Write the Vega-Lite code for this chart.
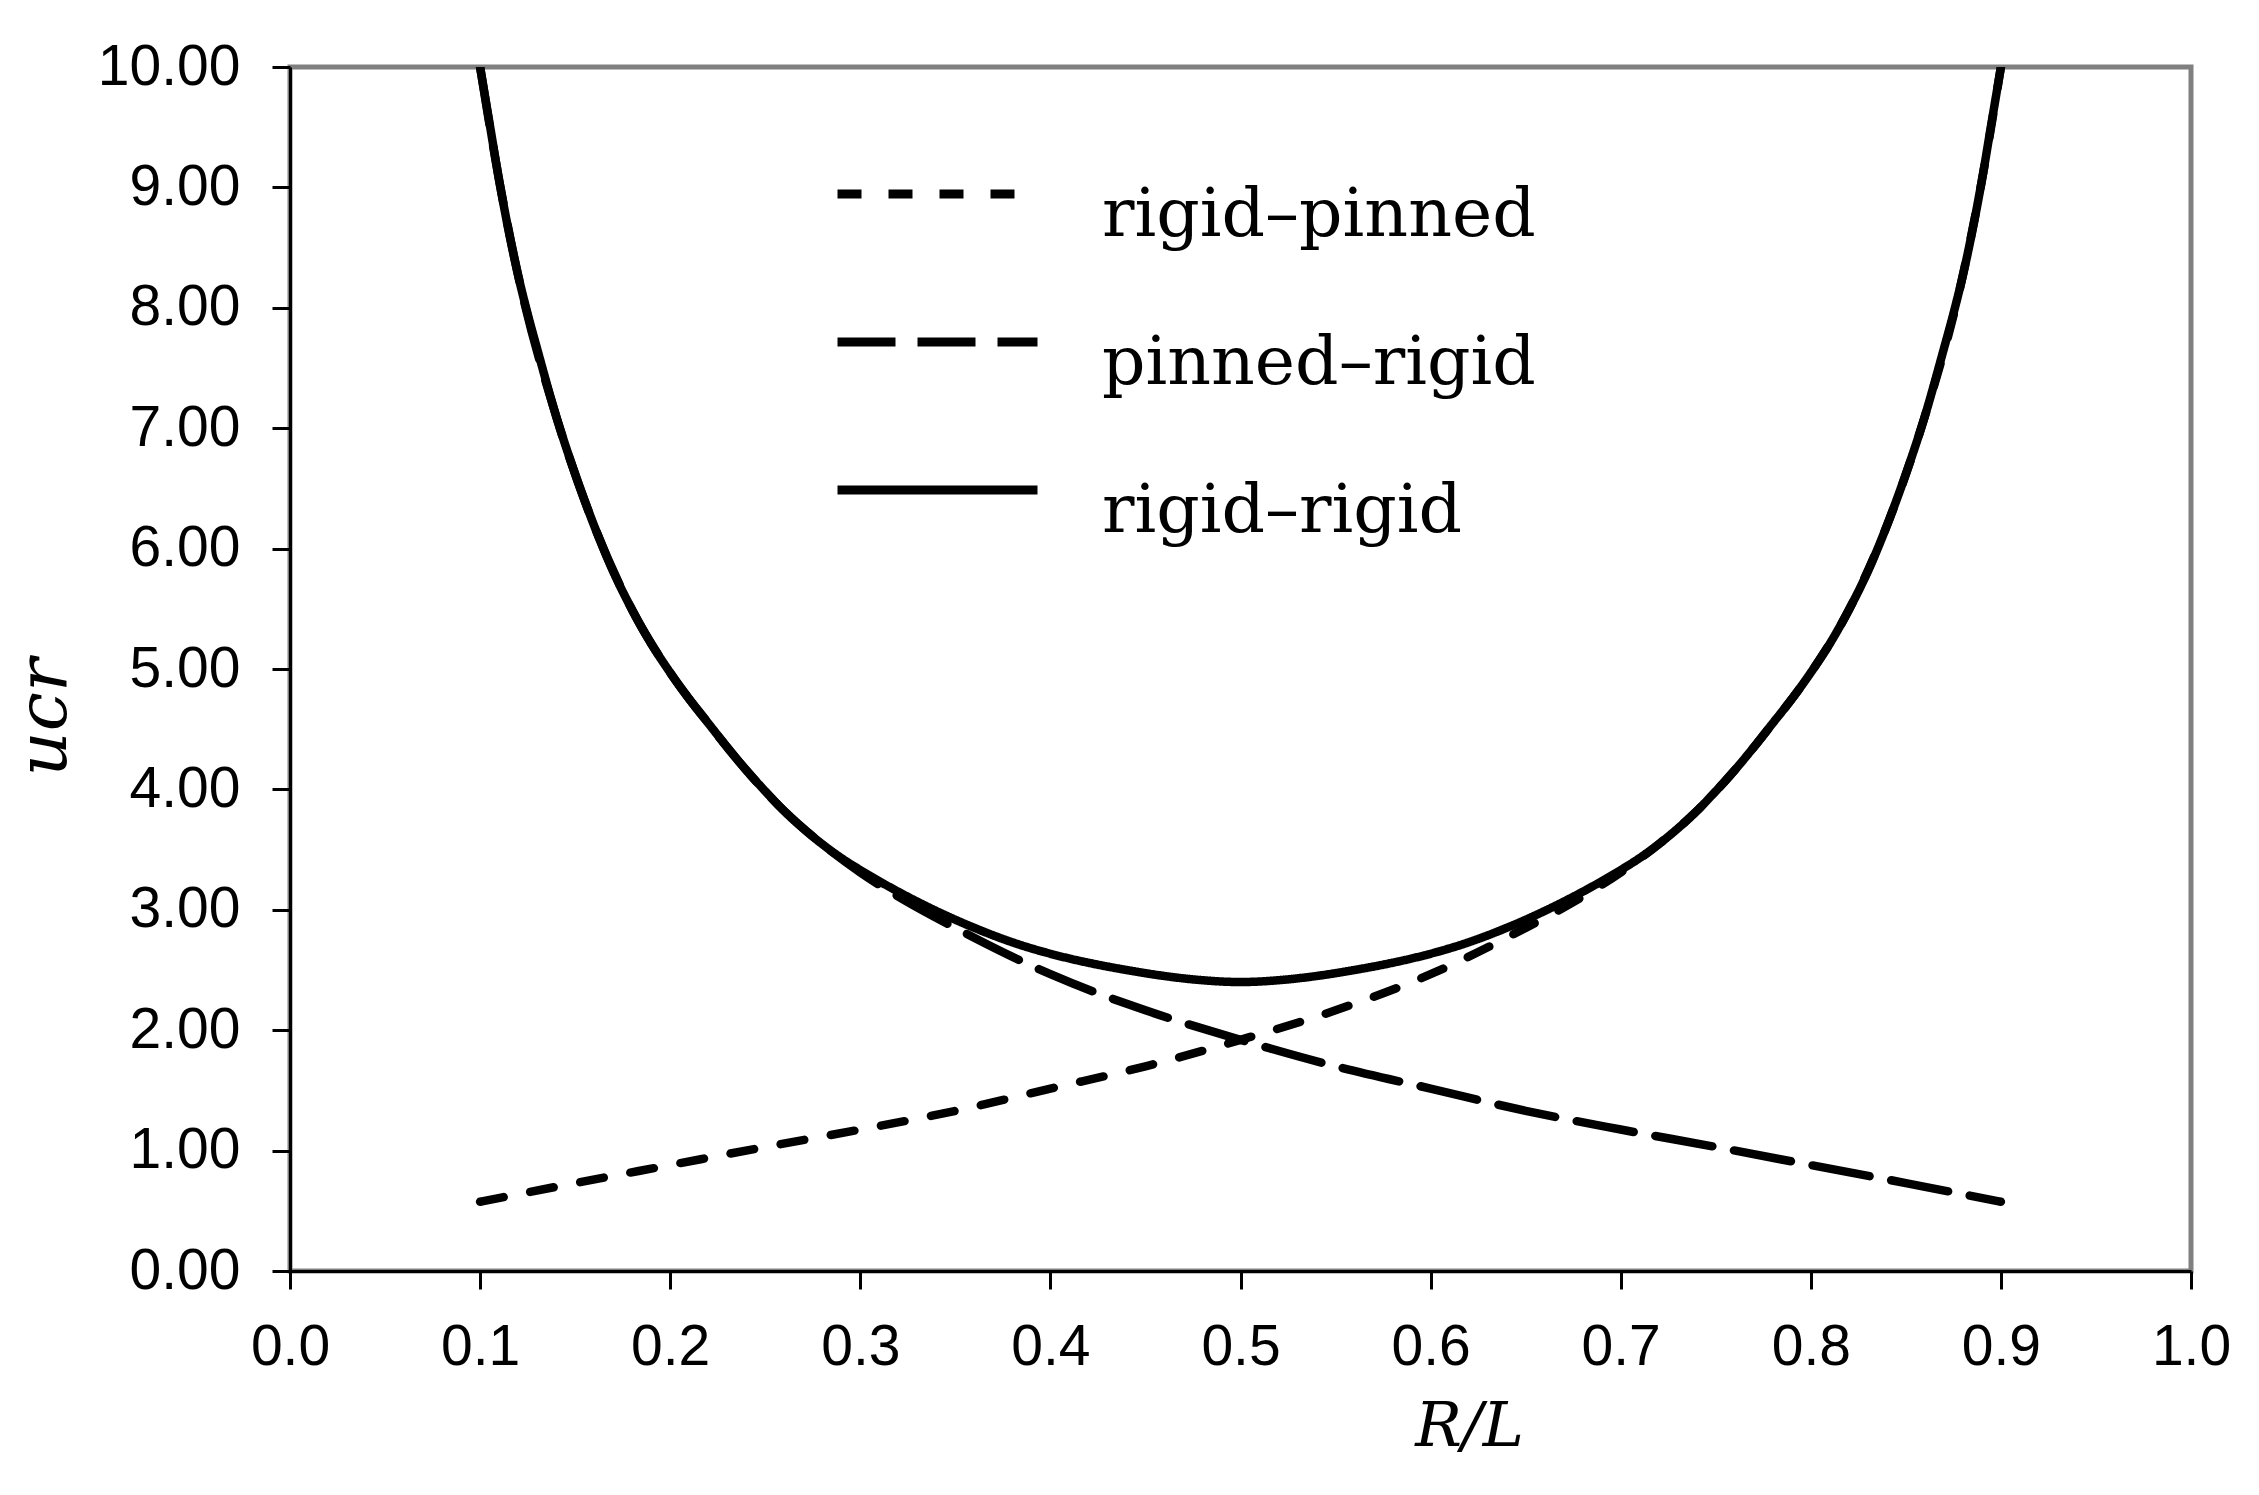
{
  "$schema": "https://vega.github.io/schema/vega-lite/v6.json",
  "width": 1901,
  "height": 1204,
  "autosize": {"type": "none"},
  "padding": {"left": 290, "top": 67, "right": 68, "bottom": 224},
  "background": "white",
  "config": {
    "view": {"stroke": "#808080", "strokeWidth": 5},
    "axis": {
      "grid": false,
      "domainColor": "black",
      "domainWidth": 3,
      "tickColor": "black",
      "tickWidth": 3,
      "tickSize": 18,
      "labelFont": "Liberation Sans Narrow, Arial Narrow, Liberation Sans, sans-serif",
      "labelFontSize": 57,
      "labelColor": "black",
      "labelOverlap": false,
      "labelFlush": false,
      "labelBound": false,
      "titleColor": "black",
      "titleFont": "DejaVu Serif",
      "titleFontStyle": "italic",
      "titleFontWeight": "normal"
    }
  },
  "data": {
    "values": [
      {"r": 0.10, "u": 10.00, "s": "rigid–rigid"},
      {"r": 0.105, "u": 9.53, "s": "rigid–rigid"},
      {"r": 0.11, "u": 9.06, "s": "rigid–rigid"},
      {"r": 0.115, "u": 8.64, "s": "rigid–rigid"},
      {"r": 0.12, "u": 8.27, "s": "rigid–rigid"},
      {"r": 0.125, "u": 7.95, "s": "rigid–rigid"},
      {"r": 0.13, "u": 7.66, "s": "rigid–rigid"},
      {"r": 0.14, "u": 7.10, "s": "rigid–rigid"},
      {"r": 0.15, "u": 6.62, "s": "rigid–rigid"},
      {"r": 0.16, "u": 6.19, "s": "rigid–rigid"},
      {"r": 0.17, "u": 5.81, "s": "rigid–rigid"},
      {"r": 0.18, "u": 5.49, "s": "rigid–rigid"},
      {"r": 0.19, "u": 5.21, "s": "rigid–rigid"},
      {"r": 0.20, "u": 4.97, "s": "rigid–rigid"},
      {"r": 0.21, "u": 4.75, "s": "rigid–rigid"},
      {"r": 0.22, "u": 4.55, "s": "rigid–rigid"},
      {"r": 0.23, "u": 4.35, "s": "rigid–rigid"},
      {"r": 0.24, "u": 4.16, "s": "rigid–rigid"},
      {"r": 0.25, "u": 3.985, "s": "rigid–rigid"},
      {"r": 0.26, "u": 3.82, "s": "rigid–rigid"},
      {"r": 0.27, "u": 3.675, "s": "rigid–rigid"},
      {"r": 0.28, "u": 3.545, "s": "rigid–rigid"},
      {"r": 0.29, "u": 3.43, "s": "rigid–rigid"},
      {"r": 0.30, "u": 3.33, "s": "rigid–rigid"},
      {"r": 0.32, "u": 3.15, "s": "rigid–rigid"},
      {"r": 0.34, "u": 2.99, "s": "rigid–rigid"},
      {"r": 0.36, "u": 2.85, "s": "rigid–rigid"},
      {"r": 0.38, "u": 2.73, "s": "rigid–rigid"},
      {"r": 0.40, "u": 2.635, "s": "rigid–rigid"},
      {"r": 0.42, "u": 2.56, "s": "rigid–rigid"},
      {"r": 0.44, "u": 2.50, "s": "rigid–rigid"},
      {"r": 0.46, "u": 2.45, "s": "rigid–rigid"},
      {"r": 0.48, "u": 2.415, "s": "rigid–rigid"},
      {"r": 0.50, "u": 2.40, "s": "rigid–rigid"},
      {"r": 0.52, "u": 2.415, "s": "rigid–rigid"},
      {"r": 0.54, "u": 2.45, "s": "rigid–rigid"},
      {"r": 0.56, "u": 2.50, "s": "rigid–rigid"},
      {"r": 0.58, "u": 2.56, "s": "rigid–rigid"},
      {"r": 0.60, "u": 2.635, "s": "rigid–rigid"},
      {"r": 0.62, "u": 2.73, "s": "rigid–rigid"},
      {"r": 0.64, "u": 2.85, "s": "rigid–rigid"},
      {"r": 0.66, "u": 2.99, "s": "rigid–rigid"},
      {"r": 0.68, "u": 3.15, "s": "rigid–rigid"},
      {"r": 0.70, "u": 3.33, "s": "rigid–rigid"},
      {"r": 0.71, "u": 3.43, "s": "rigid–rigid"},
      {"r": 0.72, "u": 3.545, "s": "rigid–rigid"},
      {"r": 0.73, "u": 3.675, "s": "rigid–rigid"},
      {"r": 0.74, "u": 3.82, "s": "rigid–rigid"},
      {"r": 0.75, "u": 3.985, "s": "rigid–rigid"},
      {"r": 0.76, "u": 4.16, "s": "rigid–rigid"},
      {"r": 0.77, "u": 4.35, "s": "rigid–rigid"},
      {"r": 0.78, "u": 4.55, "s": "rigid–rigid"},
      {"r": 0.79, "u": 4.75, "s": "rigid–rigid"},
      {"r": 0.80, "u": 4.97, "s": "rigid–rigid"},
      {"r": 0.81, "u": 5.21, "s": "rigid–rigid"},
      {"r": 0.82, "u": 5.49, "s": "rigid–rigid"},
      {"r": 0.83, "u": 5.81, "s": "rigid–rigid"},
      {"r": 0.84, "u": 6.19, "s": "rigid–rigid"},
      {"r": 0.85, "u": 6.62, "s": "rigid–rigid"},
      {"r": 0.86, "u": 7.10, "s": "rigid–rigid"},
      {"r": 0.87, "u": 7.66, "s": "rigid–rigid"},
      {"r": 0.875, "u": 7.95, "s": "rigid–rigid"},
      {"r": 0.88, "u": 8.27, "s": "rigid–rigid"},
      {"r": 0.885, "u": 8.64, "s": "rigid–rigid"},
      {"r": 0.89, "u": 9.06, "s": "rigid–rigid"},
      {"r": 0.895, "u": 9.53, "s": "rigid–rigid"},
      {"r": 0.90, "u": 10.00, "s": "rigid–rigid"},

      {"r": 0.10, "u": 0.575, "s": "rigid–pinned"},
      {"r": 0.15, "u": 0.73, "s": "rigid–pinned"},
      {"r": 0.20, "u": 0.88, "s": "rigid–pinned"},
      {"r": 0.25, "u": 1.03, "s": "rigid–pinned"},
      {"r": 0.30, "u": 1.175, "s": "rigid–pinned"},
      {"r": 0.35, "u": 1.33, "s": "rigid–pinned"},
      {"r": 0.40, "u": 1.515, "s": "rigid–pinned"},
      {"r": 0.45, "u": 1.70, "s": "rigid–pinned"},
      {"r": 0.50, "u": 1.92, "s": "rigid–pinned"},
      {"r": 0.55, "u": 2.165, "s": "rigid–pinned"},
      {"r": 0.60, "u": 2.465, "s": "rigid–pinned"},
      {"r": 0.65, "u": 2.85, "s": "rigid–pinned"},
      {"r": 0.68, "u": 3.11, "s": "rigid–pinned"},
      {"r": 0.70, "u": 3.31, "s": "rigid–pinned"},
      {"r": 0.72, "u": 3.545, "s": "rigid–pinned"},
      {"r": 0.74, "u": 3.82, "s": "rigid–pinned"},
      {"r": 0.76, "u": 4.16, "s": "rigid–pinned"},
      {"r": 0.78, "u": 4.55, "s": "rigid–pinned"},
      {"r": 0.80, "u": 4.97, "s": "rigid–pinned"},
      {"r": 0.82, "u": 5.49, "s": "rigid–pinned"},
      {"r": 0.84, "u": 6.19, "s": "rigid–pinned"},
      {"r": 0.86, "u": 7.10, "s": "rigid–pinned"},
      {"r": 0.88, "u": 8.27, "s": "rigid–pinned"},
      {"r": 0.89, "u": 9.06, "s": "rigid–pinned"},
      {"r": 0.90, "u": 10.00, "s": "rigid–pinned"},

      {"r": 0.10, "u": 10.00, "s": "pinned–rigid"},
      {"r": 0.11, "u": 9.06, "s": "pinned–rigid"},
      {"r": 0.12, "u": 8.27, "s": "pinned–rigid"},
      {"r": 0.14, "u": 7.10, "s": "pinned–rigid"},
      {"r": 0.16, "u": 6.19, "s": "pinned–rigid"},
      {"r": 0.18, "u": 5.49, "s": "pinned–rigid"},
      {"r": 0.20, "u": 4.97, "s": "pinned–rigid"},
      {"r": 0.22, "u": 4.55, "s": "pinned–rigid"},
      {"r": 0.24, "u": 4.16, "s": "pinned–rigid"},
      {"r": 0.26, "u": 3.82, "s": "pinned–rigid"},
      {"r": 0.28, "u": 3.545, "s": "pinned–rigid"},
      {"r": 0.30, "u": 3.31, "s": "pinned–rigid"},
      {"r": 0.32, "u": 3.11, "s": "pinned–rigid"},
      {"r": 0.35, "u": 2.85, "s": "pinned–rigid"},
      {"r": 0.40, "u": 2.465, "s": "pinned–rigid"},
      {"r": 0.45, "u": 2.165, "s": "pinned–rigid"},
      {"r": 0.50, "u": 1.92, "s": "pinned–rigid"},
      {"r": 0.55, "u": 1.70, "s": "pinned–rigid"},
      {"r": 0.60, "u": 1.515, "s": "pinned–rigid"},
      {"r": 0.65, "u": 1.33, "s": "pinned–rigid"},
      {"r": 0.70, "u": 1.175, "s": "pinned–rigid"},
      {"r": 0.75, "u": 1.03, "s": "pinned–rigid"},
      {"r": 0.80, "u": 0.88, "s": "pinned–rigid"},
      {"r": 0.85, "u": 0.73, "s": "pinned–rigid"},
      {"r": 0.90, "u": 0.575, "s": "pinned–rigid"}
    ]
  },
  "mark": {"type": "line", "interpolate": "monotone", "color": "black", "strokeWidth": 8.5, "strokeCap": "round", "clip": true},
  "encoding": {
    "x": {
      "field": "r", "type": "quantitative",
      "scale": {"domain": [0, 1], "nice": false, "zero": false},
      "axis": {
        "values": [0, 0.1, 0.2, 0.3, 0.4, 0.5, 0.6, 0.7, 0.8, 0.9, 1.0],
        "format": ".1f",
        "labelPadding": 30,
        "title": "R/L",
        "titleFontSize": 62,
        "titleX": 1179,
        "titleY": 174,
        "titleBaseline": "alphabetic",
        "titleAlign": "center",
        "titleAnchor": null
      }
    },
    "y": {
      "field": "u", "type": "quantitative",
      "scale": {"domain": [0, 10], "nice": false},
      "axis": {
        "values": [0, 1, 2, 3, 4, 5, 6, 7, 8, 9, 10],
        "format": ".2f",
        "labelPadding": 32,
        "title": "ucr",
        "titleFontSize": 70,
        "titleAngle": -90,
        "titleX": -225,
        "titleY": 650,
        "titleBaseline": "alphabetic",
        "titleAlign": "center",
        "titleAnchor": null
      }
    },
    "strokeDash": {
      "field": "s", "type": "nominal",
      "scale": {
        "domain": ["rigid–pinned", "pinned–rigid", "rigid–rigid"],
        "range": [[24, 27], [58, 22], [1, 0]]
      },
      "legend": {
        "orient": "none",
        "legendX": 543,
        "legendY": 53,
        "title": null,
        "padding": 0,
        "symbolType": "stroke",
        "symbolSize": 40000,
        "symbolStrokeWidth": 9,
        "symbolStrokeColor": "black",
        "labelFont": "DejaVu Serif",
        "labelFontSize": 68,
        "labelColor": "black",
        "labelLimit": 0,
        "labelOffset": 60,
        "labelBaseline": "alphabetic",
        "clipHeight": 148,
        "rowPadding": 0,
        "encode": {"labels": {"update": {"dy": {"value": 42}}}}
      }
    }
  }
}
